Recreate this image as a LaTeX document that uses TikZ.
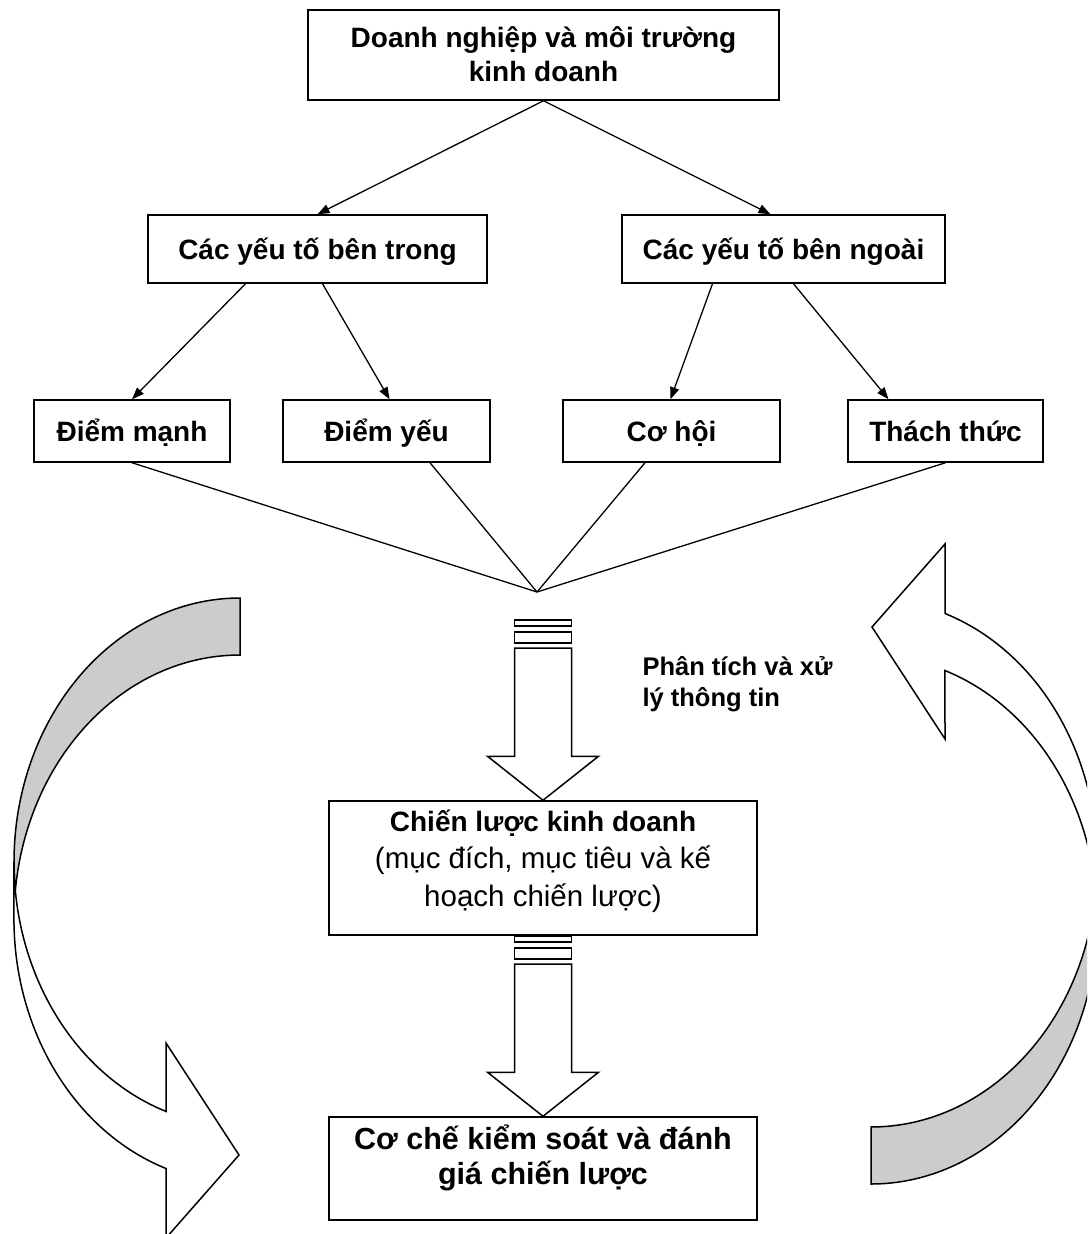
\documentclass[tikz,border=0pt]{standalone}
\usepackage{fontspec}
\setmainfont{Liberation Sans}
\usetikzlibrary{arrows.meta,calc}

\tikzset{
  frame/.style={draw, line width=1.5pt, fill=white, inner sep=0pt, align=center},
  conn/.style={line width=1.3pt, -{Triangle[length=12pt,width=9pt]}},
  plainline/.style={line width=1.3pt},
  boldtext/.style={font=\fontsize{28}{34}\selectfont\bfseries, align=center},
  oneline/.style={text height=27pt, text depth=6pt},
  band/.style={draw, line width=1.5pt, line join=miter},
}

% curved ribbon arrow: grey back half, white front half ending in a head
\newcommand{\loopband}[1]{%
  \begin{scope}[#1]
    \filldraw[band, fill=black!20] (240,598)
      arc[start angle=270, end angle=173.8, x radius=226, y radius=264]
      arc[start angle=186.2, end angle=270, x radius=226, y radius=264] -- cycle;
    \filldraw[band, fill=white] (14,862)
      arc[start angle=180, end angle=109.1, x radius=226, y radius=264]
      -- (166,1043) -- (239,1155) -- (166,1238) -- (166,1168.5)
      arc[start angle=109.1, end angle=180, x radius=226, y radius=264] -- cycle;
  \end{scope}}

% striped block arrow from coordinate #1 down to tip #2
\newcommand{\stripedarrow}[2]{%
  \draw[band, fill=white] ($(#1)+(-28.5,0)$) rectangle ($(#1)+(28.5,6)$);
  \draw[band, fill=white] ($(#1)+(-28.5,12)$) rectangle ($(#1)+(28.5,23)$);
  \draw[band, fill=white] ($(#1)+(-28.5,28)$) -- ($(#2)+(-28.5,-44)$)
    -- ($(#2)+(-55.5,-44)$) -- (#2) -- ($(#2)+(55.5,-44)$)
    -- ($(#2)+(28.5,-44)$) -- ($(#1)+(28.5,28)$) -- cycle;
}

\begin{document}
\begin{tikzpicture}[x=1pt, y=-1pt]
  \useasboundingbox (0,0) rectangle (1087,1234);
  \clip (0,0) rectangle (1087,1234);

  % feedback loops on both sides
  \loopband{}
  \loopband{rotate around={180:(555.5,891)}}

  % boxes
  \node[frame, minimum width=471pt, minimum height=90pt] (top) at (543.5,55) {};
  \node[boldtext] (topT) at (543.5,54) {Doanh nghiệp và môi trường\\kinh doanh};

  \node[frame, boldtext, oneline, minimum width=339pt, minimum height=68pt] (inner) at (317.5,249) {Các yếu tố bên trong};
  \node[frame, boldtext, oneline, minimum width=323pt, minimum height=68pt] (outer) at (783.5,249) {Các yếu tố bên ngoài};

  \node[frame, boldtext, oneline, minimum width=196pt, minimum height=62pt] (str) at (132,431) {Điểm mạnh};
  \node[frame, boldtext, oneline, minimum width=207pt, minimum height=62pt] (weak) at (386.5,431) {Điểm yếu};
  \node[frame, boldtext, oneline, minimum width=217pt, minimum height=62pt] (opp) at (671.5,431) {Cơ hội};
  \node[frame, boldtext, oneline, minimum width=195pt, minimum height=62pt] (thr) at (945.5,431) {Thách thức};

  \node[frame, minimum width=428pt, minimum height=134pt] (plan) at (543,868) {};
  \node[align=center, font=\fontsize{29.5}{37.5}\selectfont] (planT) at (543,861)
    {{\fontsize{28}{37.5}\selectfont\bfseries Chiến lược kinh doanh}\\(mục đích, mục tiêu và kế\\hoạch chiến lược)};

  \node[frame, minimum width=428pt, minimum height=103pt] (ctrl) at (543,1168.5) {};
  \node[align=center, font=\fontsize{30.5}{34.5}\selectfont\bfseries] (ctrlT) at (543,1158)
    {Cơ chế kiểm soát và đánh\\giá chiến lược};

  \node[align=left, anchor=west, font=\fontsize{25.5}{31}\selectfont\bfseries] (proc) at (639,684)
    {Phân tích và xử\\lý thông tin};

  % connectors
  \draw[conn] (top.south) -- (inner.north);
  \draw[conn] (top.south) -- ([xshift=-13pt]outer.north);
  \draw[conn] ([xshift=-72pt]inner.south) -- (str.north);
  \draw[conn] ([xshift=5pt]inner.south) -- ([xshift=3pt]weak.north);
  \draw[conn] ([xshift=-71pt]outer.south) -- ([xshift=-1pt]opp.north);
  \draw[conn] ([xshift=10pt]outer.south) -- ([xshift=-57pt]thr.north);

  \coordinate (meet) at (537,592);
  \draw[plainline] (str.south) -- (meet);
  \draw[plainline] ([xshift=43.5pt]weak.south) -- (meet);
  \draw[plainline] ([xshift=-26.5pt]opp.south) -- (meet);
  \draw[plainline] (thr.south) -- (meet);

  % striped block arrows
  \coordinate (s1) at (543,620);
  \coordinate (s2) at (543,936);
  \stripedarrow{s1}{plan.north}
  \stripedarrow{s2}{ctrl.north}
\end{tikzpicture}
\end{document}
